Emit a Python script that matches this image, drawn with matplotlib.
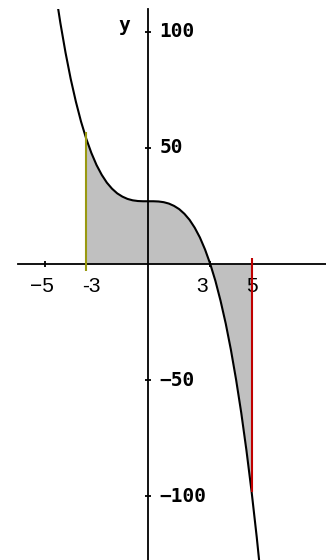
import numpy as np
import matplotlib
matplotlib.use("Agg")
import matplotlib.pyplot as plt

# curve samples (y vs x)
curve_x = [-4.5, -4.25, -4.0, -3.75, -3.5, -3.25, -3.0, -2.75, -2.5, -2.25, -2.0,
           -1.75, -1.5, -1.25, -1.0, -0.75, -0.5, -0.25, 0.0, 0.25, 0.5, 0.75,
           1.0, 1.25, 1.5, 1.75, 2.0, 2.25, 2.5, 2.75, 3.0, 3.25, 3.5, 3.75,
           4.0, 4.25, 4.5, 4.75, 5.0, 5.25, 5.5]
curve_y = [118.1, 103.8, 91.0, 79.7, 69.9, 61.3, 54.0, 47.8, 42.6, 38.4, 35.0,
           32.4, 30.4, 29.0, 28.0, 27.4, 27.1, 27.0, 27.0, 27.0, 26.9, 26.6,
           26.0, 25.0, 23.6, 21.6, 19.0, 15.6, 11.4, 6.2, 0.0, -7.3, -15.9, -25.7,
           -37.0, -49.8, -64.1, -80.2, -98.0, -117.7, -139.4]
bound_lo, bound_hi = -3, 5
x_ticks = [-5, -3, 3, 5]
x_tick_labels = ["\u22125", "-3", "3", "5"]
y_ticks = [100, 50, -50, -100]
y_tick_labels = ["100", "50", "\u221250", "\u2212100"]

W, H = 326, 560
fig = plt.figure(figsize=(W / 100, H / 100), dpi=100)
ax = fig.add_axes([0, 0, 1, 551 / 560])
ax.set_xlim(-7.17, 8.60)
ax.set_ylim(-127.5, 109.8)
ax.set_facecolor("white")
for s in ["top", "right"]:
    ax.spines[s].set_visible(False)
ax.spines["left"].set_position(("data", 0))
ax.spines["bottom"].set_position(("data", 0))
ax.spines["bottom"].set_bounds(-6.31, 8.60)
for s in ["left", "bottom"]:
    ax.spines[s].set_linewidth(1.3)
ax.set_xticks(x_ticks)
ax.set_yticks(y_ticks)
ax.tick_params(direction="inout", length=5, width=1.3, labelleft=False, labelbottom=False)

cx = np.array(curve_x)
cy = np.array(curve_y)
ax.fill_between(cx, cy, 0, where=(cx >= bound_lo) & (cx <= bound_hi),
                color="#c0c0c0", interpolate=True, lw=0, zorder=1)
ax.plot(cx, cy, color="black", lw=1.5, zorder=3)

y_lo = cy[curve_x.index(bound_lo)]
y_hi = cy[curve_x.index(bound_hi)]
ax.vlines(bound_lo, -3, y_lo + 3, color="#999910", lw=1.5, zorder=4)
ax.vlines(bound_hi, 2.5, y_hi, color="#c00000", lw=1.5, zorder=4)

mono = dict(family="DejaVu Sans Mono", weight="bold", fontsize=14)
for v, lab in zip(y_ticks, y_tick_labels):
    ax.annotate(lab, (0, v), xytext=(11, 0), textcoords="offset pixels",
                ha="left", va="center", **mono)
ax.annotate("y", (0, 100), xytext=(-24, 6), textcoords="offset pixels",
            ha="center", va="center", **mono)

offs = {"\u22125": -3, "-3": 5, "3": -8, "5": 0}
for v, lab in zip(x_ticks, x_tick_labels):
    ax.annotate(lab, (v, 0), xytext=(offs[lab], -13), textcoords="offset pixels",
                ha="center", va="top", family="Liberation Sans", fontsize=15)

fig.savefig("out.png", dpi=100)
